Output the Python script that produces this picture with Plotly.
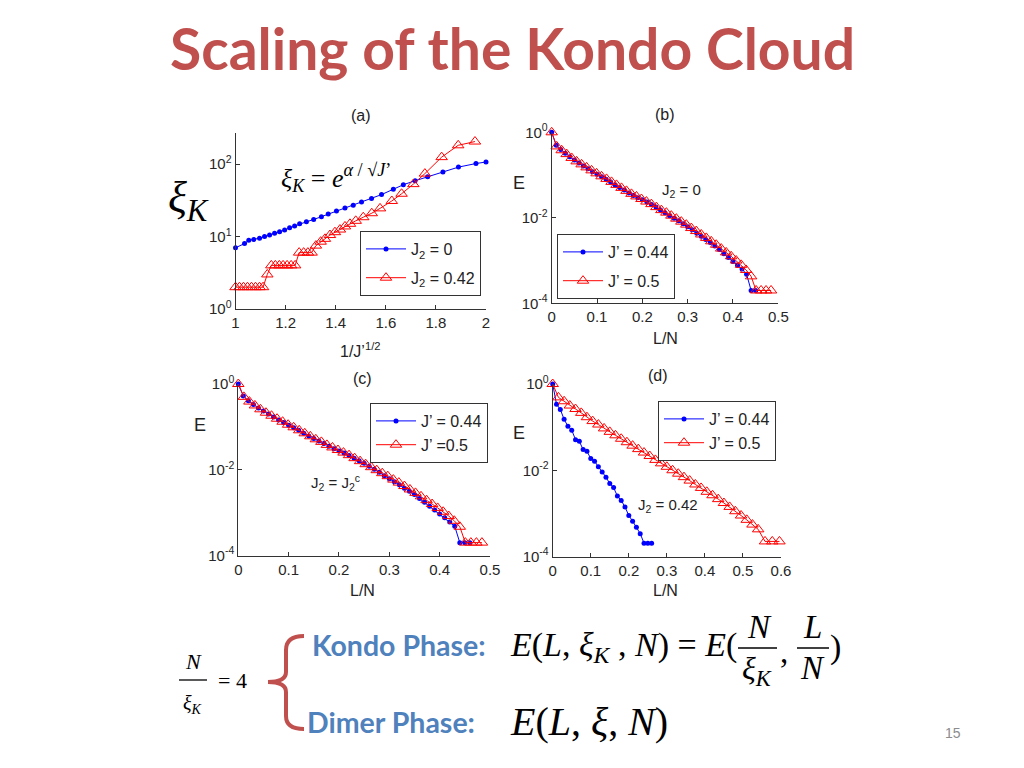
import plotly.graph_objects as go

W, H = 1024, 768

# ---------------- data ----------------
# panel (a): xi_K vs 1/J'^(1/2)
a_x_j2_0 = [1.0, 1.036, 1.053, 1.073, 1.096, 1.116, 1.136, 1.156, 1.176, 1.196,
            1.216, 1.236, 1.256, 1.283, 1.312, 1.343, 1.37, 1.403, 1.437, 1.47,
            1.503, 1.543, 1.583, 1.63, 1.67, 1.717, 1.767, 1.828, 1.89, 1.96, 2.0]
a_y_j2_0 = [7.0, 8.0, 8.9, 9.1, 9.5, 10.0, 10.5, 11.1, 11.7, 12.3,
            13.2, 14.0, 15.0, 16.0, 17.2, 18.8, 20.5, 22.5, 24.8, 27.0,
            30.0, 33.5, 38.0, 45.0, 52.0, 59.0, 67.0, 78.0, 91.0, 102.0, 107.0]
a_x_j2_042 = [1.0, 1.016, 1.032, 1.048, 1.064, 1.08, 1.096, 1.11, 1.127, 1.143,
              1.159, 1.175, 1.19, 1.206, 1.222, 1.238, 1.254, 1.272, 1.289, 1.304,
              1.321, 1.34, 1.357, 1.377, 1.397, 1.417, 1.437, 1.457, 1.48, 1.51,
              1.544, 1.577, 1.624, 1.663, 1.71, 1.756, 1.823, 1.889, 1.956]
a_y_j2_042 = [2, 2, 2, 2, 2, 2, 2, 2, 3, 4,
              4, 4, 4, 4, 4, 4, 6, 6, 6, 6,
              7.5, 8.5, 9.3, 10.5, 11.5, 12.5, 13.8, 15, 16.5, 18.5,
              21, 24.5, 31, 39, 53, 74, 125, 182, 205]

# L/N grids
ln_step01_46 = [0.00, 0.01, 0.02, 0.03, 0.04, 0.05, 0.06, 0.07, 0.08, 0.09,
                0.10, 0.11, 0.12, 0.13, 0.14, 0.15, 0.16, 0.17, 0.18, 0.19,
                0.20, 0.21, 0.22, 0.23, 0.24, 0.25, 0.26, 0.27, 0.28, 0.29,
                0.30, 0.31, 0.32, 0.33, 0.34, 0.35, 0.36, 0.37, 0.38, 0.39,
                0.40, 0.41, 0.42, 0.43, 0.44, 0.45]
ln_step01_47 = ln_step01_46 + [0.46]
ln_step011 = [0, 0.011, 0.022, 0.033, 0.044, 0.055, 0.066, 0.077, 0.088, 0.099,
              0.11, 0.121, 0.132, 0.143, 0.154, 0.165, 0.176, 0.187, 0.198, 0.209,
              0.22, 0.231, 0.242, 0.253, 0.264, 0.275, 0.286, 0.297, 0.308, 0.319,
              0.33, 0.341, 0.352, 0.363, 0.374, 0.385, 0.396, 0.407, 0.418, 0.429,
              0.44, 0.451, 0.462, 0.473, 0.484]
ln_d_blue = [0.00, 0.01, 0.02, 0.03, 0.04, 0.05, 0.06, 0.07, 0.08, 0.09,
             0.10, 0.11, 0.12, 0.13, 0.14, 0.15, 0.16, 0.17, 0.18, 0.19,
             0.20, 0.21, 0.22, 0.23, 0.24, 0.25, 0.26]
ln_d_red = [0, 0.015, 0.03, 0.045, 0.06, 0.075, 0.09, 0.105, 0.12, 0.135,
            0.15, 0.165, 0.18, 0.195, 0.21, 0.225, 0.24, 0.255, 0.27, 0.285,
            0.3, 0.315, 0.33, 0.345, 0.36, 0.375, 0.39, 0.405, 0.42, 0.435,
            0.45, 0.465, 0.48, 0.495, 0.51, 0.525, 0.54, 0.558, 0.577, 0.596]

# log10(E) values
b_log_e_044 = [0, -0.30, -0.40, -0.49, -0.57, -0.65, -0.72, -0.79, -0.85, -0.92,
               -0.98, -1.04, -1.10, -1.16, -1.23, -1.29, -1.35, -1.42, -1.48, -1.53,
               -1.58, -1.63, -1.69, -1.75, -1.82, -1.88, -1.95, -2.01, -2.07, -2.14,
               -2.21, -2.28, -2.36, -2.43, -2.51, -2.58, -2.66, -2.74, -2.84, -2.93,
               -3.02, -3.11, -3.20, -3.32, -3.70, -3.70]
b_log_e_05 = [0, -0.33, -0.42, -0.51, -0.60, -0.68, -0.75, -0.82, -0.89, -0.96,
              -1.03, -1.09, -1.16, -1.23, -1.30, -1.37, -1.44, -1.50, -1.56, -1.62,
              -1.68, -1.75, -1.82, -1.88, -1.95, -2.02, -2.09, -2.16, -2.24, -2.31,
              -2.39, -2.47, -2.55, -2.63, -2.72, -2.81, -2.90, -3.00, -3.10, -3.22,
              -3.37, -3.70, -3.70, -3.70, -3.70]
c_log_e_044 = [0, -0.28, -0.39, -0.48, -0.56, -0.63, -0.70, -0.77, -0.84, -0.90,
               -0.96, -1.02, -1.08, -1.15, -1.21, -1.27, -1.33, -1.39, -1.45, -1.51,
               -1.56, -1.61, -1.67, -1.73, -1.79, -1.85, -1.92, -1.99, -2.06, -2.14,
               -2.21, -2.28, -2.35, -2.43, -2.50, -2.58, -2.67, -2.76, -2.85, -2.94,
               -3.03, -3.12, -3.22, -3.32, -3.70, -3.70, -3.70]
c_log_e_05 = [0, -0.30, -0.41, -0.50, -0.59, -0.67, -0.74, -0.81, -0.88, -0.95,
              -1.01, -1.08, -1.15, -1.22, -1.29, -1.35, -1.42, -1.48, -1.54, -1.60,
              -1.66, -1.73, -1.80, -1.87, -1.94, -2.01, -2.08, -2.15, -2.23, -2.30,
              -2.38, -2.46, -2.54, -2.62, -2.71, -2.80, -2.89, -2.98, -3.08, -3.19,
              -3.33, -3.70, -3.70, -3.70, -3.70]
d_log_e_044 = [0, -0.47, -0.59, -0.82, -0.98, -1.07, -1.29, -1.33, -1.52, -1.56,
               -1.73, -1.79, -1.92, -2.04, -2.16, -2.31, -2.40, -2.60, -2.70, -2.85,
               -3.05, -3.18, -3.32, -3.47, -3.69, -3.69, -3.69]
d_log_e_05 = [0, -0.31, -0.40, -0.50, -0.58, -0.67, -0.77, -0.86, -0.94, -1.03,
              -1.11, -1.19, -1.27, -1.35, -1.43, -1.51, -1.59, -1.67, -1.76, -1.84,
              -1.92, -2.00, -2.08, -2.16, -2.24, -2.33, -2.41, -2.50, -2.58, -2.67,
              -2.76, -2.85, -2.95, -3.05, -3.15, -3.26, -3.37, -3.65, -3.65, -3.65]

a_xticks = [1, 1.2, 1.4, 1.6, 1.8, 2]
a_xticktext = ["1", "1.2", "1.4", "1.6", "1.8", "2"]
a_yticks = [1, 10, 100]
a_yticktext = ["10<sup>0</sup>", "10<sup>1</sup>", "10<sup>2</sup>"]
e_yticks = [1e-4, 1e-2, 1]
e_yticktext = ["10<sup>-4</sup>", "10<sup>-2</sup>", "10<sup>0</sup>"]
bc_xticks = [0, 0.1, 0.2, 0.3, 0.4, 0.5]
bc_xticktext = ["0", "0.1", "0.2", "0.3", "0.4", "0.5"]
d_xticks = [0, 0.1, 0.2, 0.3, 0.4, 0.5, 0.6]
d_xticktext = ["0", "0.1", "0.2", "0.3", "0.4", "0.5", "0.6"]


def to_e(vals):
    return [10 ** v for v in vals]


# ---------------- helpers ----------------
def px(x):
    return x / W


def py(y):
    return 1 - y / H


BLUE = "#0000ff"
RED = "#ff0000"
TICKFONT = dict(family="Liberation Sans, Arial, sans-serif", size=15, color="#262626")
SERIF = "Liberation Serif, Times New Roman, serif"
SANS = "Liberation Sans, Arial, sans-serif"
CAL = "Lato, Open Sans, sans-serif"

fig = go.Figure()


def blue_trace(x, y, name, xa, ya, leg, grp):
    return go.Scatter(x=x, y=y, name=name, mode="lines+markers", xaxis=xa, yaxis=ya,
                      legend=leg, legendgroup=grp, cliponaxis=False,
                      line=dict(color=BLUE, width=1),
                      marker=dict(symbol="circle", size=5, color=BLUE))


def red_trace(x, y, name, xa, ya, leg, grp):
    return go.Scatter(x=x, y=y, name=name, mode="lines+markers", xaxis=xa, yaxis=ya,
                      legend=leg, legendgroup=grp, cliponaxis=False,
                      line=dict(color=RED, width=1),
                      marker=dict(symbol="triangle-up-open", size=10, color=RED,
                                  line=dict(width=1, color=RED)))


fig.add_trace(blue_trace(a_x_j2_0, a_y_j2_0, "J<sub>2</sub> = 0", "x", "y", "legend", "a1"))
fig.add_trace(red_trace(a_x_j2_042, a_y_j2_042, "J<sub>2</sub> = 0.42", "x", "y", "legend", "a2"))

fig.add_trace(blue_trace(ln_step01_46, to_e(b_log_e_044), "J\u2019 = 0.44", "x2", "y2", "legend2", "b1"))
fig.add_trace(red_trace(ln_step011, to_e(b_log_e_05), "J\u2019 = 0.5", "x2", "y2", "legend2", "b2"))

fig.add_trace(blue_trace(ln_step01_47, to_e(c_log_e_044), "J\u2019 = 0.44", "x3", "y3", "legend3", "c1"))
fig.add_trace(red_trace(ln_step011, to_e(c_log_e_05), "J\u2019 =0.5", "x3", "y3", "legend3", "c2"))

fig.add_trace(blue_trace(ln_d_blue, to_e(d_log_e_044), "J\u2019 = 0.44", "x4", "y4", "legend4", "d1"))
fig.add_trace(red_trace(ln_d_red, to_e(d_log_e_05), "J\u2019 = 0.5", "x4", "y4", "legend4", "d2"))

axis_common = dict(showgrid=False, zeroline=False, showline=True, linecolor="#333333",
                   linewidth=1, ticks="inside", ticklen=4, tickcolor="#333333",
                   tickfont=TICKFONT, mirror=False, automargin=False)


def xaxis(dom, rng, tv, tt, anchor):
    d = dict(axis_common)
    d.update(domain=dom, range=rng, tickvals=tv, ticktext=tt, anchor=anchor)
    return d


def yaxis(dom, rng, tv, tt, anchor):
    d = dict(axis_common)
    d.update(domain=dom, range=rng, type="log", tickvals=tv, ticktext=tt, anchor=anchor)
    return d


fig.update_layout(
    xaxis=xaxis([px(235.5), px(486)], [1, 2], a_xticks, a_xticktext, "y"),
    yaxis=yaxis([py(309), py(133)], [0, 2.43], a_yticks, a_yticktext, "x"),
    xaxis2=xaxis([px(551.7), px(778.3)], [0, 0.5], bc_xticks, bc_xticktext, "y2"),
    yaxis2=yaxis([py(303.3), py(132.3)], [-4, 0], e_yticks, e_yticktext, "x2"),
    xaxis3=xaxis([px(238.3), px(490)], [0, 0.5], bc_xticks, bc_xticktext, "y3"),
    yaxis3=yaxis([py(555.5), py(384)], [-4, 0], e_yticks, e_yticktext, "x3"),
    xaxis4=xaxis([px(552.7), px(781)], [0, 0.6], d_xticks, d_xticktext, "y4"),
    yaxis4=yaxis([py(556.5), py(384)], [-4, 0], e_yticks, e_yticktext, "x4"),
)

leg_common = dict(bgcolor="white", bordercolor="#333333", borderwidth=1,
                  font=dict(family=SANS, size=16, color="#222222"),
                  xanchor="left", yanchor="top", tracegroupgap=5, itemwidth=40)
fig.update_layout(
    legend=dict(leg_common, x=px(360), y=py(231)),
    legend2=dict(leg_common, x=px(557), y=py(234)),
    legend3=dict(leg_common, x=px(370), y=py(403), tracegroupgap=0),
    legend4=dict(leg_common, x=px(658), y=py(401), tracegroupgap=0),
)

ann = []


def text(x, y, t, size, family=SANS, color="#222222", xanchor="center", bold=False):
    ann.append(dict(x=px(x), y=py(y), xref="paper", yref="paper", text=t, showarrow=False,
                    xanchor=xanchor, yanchor="middle",
                    font=dict(family=family, size=size, color=color,
                              weight="bold" if bold else "normal")))


# title
text(512, 48, "Scaling of the Kondo Cloud", 57, family=CAL, color="#C0504D", bold=True)
# panel labels
text(361, 115, "(a)", 16)
text(665, 114, "(b)", 16)
text(362, 378, "(c)", 16)
text(658, 375, "(d)", 16)
# axis titles
text(360, 350, "1/J\u2019<sup>1/2</sup>", 16)
text(665, 338, "L/N", 16)
text(362, 590, "L/N", 16)
text(665, 590, "L/N", 16)
text(519, 183, "E", 18)
text(200, 425, "E", 18)
text(519, 433, "E", 18)
# xi_K label and formula in (a)
text(188, 200, "<i>\u03be<sub>K</sub></i>", 44, family=SERIF, color="#000000")
text(336, 178, "<i>\u03be<sub>K</sub></i> = <i>e</i><sup><i>\u03b1</i> / \u221a<i>J</i>\u2019</sup>",
     26, family=SERIF, color="#000000")
# in-panel notes
text(681, 190, "J<sub>2</sub> = 0", 15)
text(335, 482, "J<sub>2</sub> = J<sub>2</sub><sup>c</sup>", 15)
text(668, 505, "J<sub>2</sub> = 0.42", 15)

# bottom text
text(310, 645, "Kondo Phase:", 28.5, family=CAL, color="#4F81BD", xanchor="left", bold=True)
text(305, 722, "Dimer Phase:", 28.5, family=CAL, color="#4F81BD", xanchor="left", bold=True)
text(193, 661, "<i>N</i>", 22, family=SERIF, color="#000000")
text(192, 704, "<i>\u03be<sub>K</sub></i>", 20, family=SERIF, color="#000000")
text(232, 680, "= 4", 22, family=SERIF, color="#000000")
text(508, 647, "<i>E</i>(<i>L</i>, <i>\u03be<sub>K</sub></i> , <i>N</i>) = <i>E</i>(", 34,
     family=SERIF, color="#000000", xanchor="left")
text(759, 627, "<i>N</i>", 33, family=SERIF, color="#000000")
text(757, 670, "<i>\u03be<sub>K</sub></i>", 32, family=SERIF, color="#000000")
text(784, 652, ",", 33, family=SERIF, color="#000000")
text(812, 627, "<i>L</i>", 33, family=SERIF, color="#000000")
text(812, 668, "<i>N</i>", 33, family=SERIF, color="#000000")
text(835, 647, ")", 34, family=SERIF, color="#000000")
text(508, 721, "<i>E</i>(<i>L</i>, <i>\u03be</i>, <i>N</i>)", 40, family=SERIF,
     color="#000000", xanchor="left")
text(953, 733, "15", 14, color="#8c8c8c")

fig.update_layout(annotations=ann)

# fraction bars and brace
shapes = []


def hline(x0, x1, y, w=1.3):
    shapes.append(dict(type="line", xref="paper", yref="paper", x0=px(x0), x1=px(x1),
                       y0=py(y), y1=py(y), line=dict(color="#000000", width=w)))


hline(179, 207, 680)
hline(738, 777, 648, 1.5)
hline(797, 829, 648, 1.5)


def P(x, y):
    return f"{px(x):.5f},{py(y):.5f}"


brace = (f"M {P(304, 636)} Q {P(286, 636)} {P(286, 650)} L {P(286, 672)} "
         f"Q {P(286, 682)} {P(268, 682)} Q {P(286, 682)} {P(286, 692)} "
         f"L {P(286, 716)} Q {P(286, 729)} {P(304, 729)}")
shapes.append(dict(type="path", xref="paper", yref="paper", path=brace,
                   line=dict(color="#C0504D", width=4)))
fig.update_layout(shapes=shapes)

fig.update_layout(width=W, height=H,
                  margin=dict(l=0, r=0, t=0, b=0, pad=0, autoexpand=False),
                  paper_bgcolor="white", plot_bgcolor="white", showlegend=True)

fig.write_html("out.html", config={"displayModeBar": False},
               post_script="document.body.style.margin='0px';")
